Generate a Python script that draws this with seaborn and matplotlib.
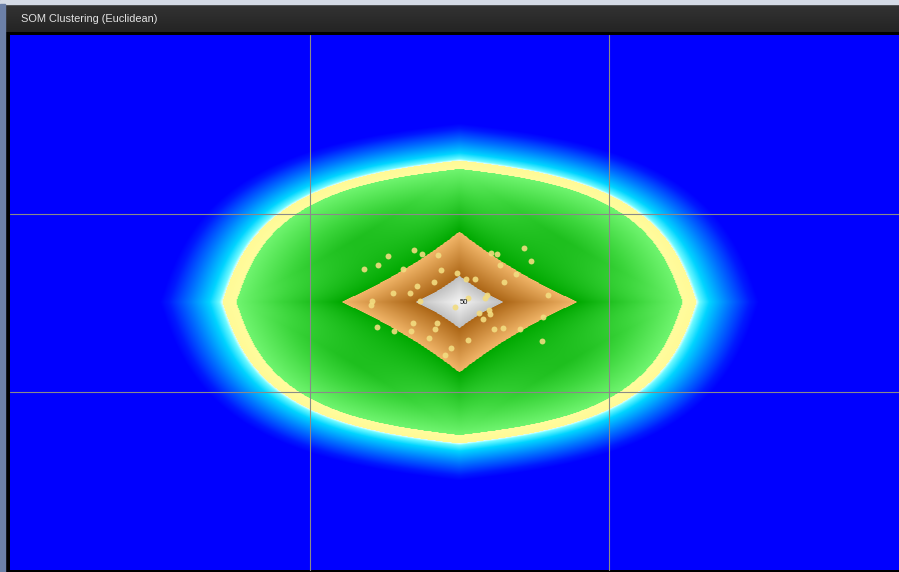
import numpy as np
import matplotlib
matplotlib.use("Agg")
import matplotlib.pyplot as plt
from matplotlib.colors import ListedColormap
from matplotlib.patches import Rectangle
import seaborn as sns

# ---------------------------------------------------------------------------
# SOM map: 3 x 3 nodes, hits per node (top row first)
grid_rows = 3
grid_cols = 3
node_hits = [
    [0, 0, 0],
    [0, 50, 0],
    [0, 0, 0],
]

# Samples projected onto the map, in grid units (x to the right, y downwards)
hit_x = [1.182, 1.228, 1.261, 1.349, 1.375, 1.430, 1.313, 1.438, 1.492, 1.523,
         1.553, 1.417, 1.359, 1.335, 1.278, 1.208, 1.204, 1.369, 1.529, 1.592,
         1.586, 1.486, 1.565, 1.598, 1.603, 1.578, 1.347, 1.425, 1.419, 1.339,
         1.282, 1.226, 1.400, 1.530, 1.472, 1.453, 1.617, 1.645, 1.703, 1.775,
         1.779, 1.795, 1.648, 1.688, 1.637, 1.606, 1.627, 1.716, 1.741]
hit_y = [1.313, 1.289, 1.238, 1.204, 1.227, 1.232, 1.313, 1.317, 1.335, 1.367,
         1.369, 1.385, 1.406, 1.447, 1.447, 1.489, 1.513, 1.489, 1.472, 1.457,
         1.475, 1.525, 1.559, 1.541, 1.565, 1.591, 1.615, 1.615, 1.647, 1.658,
         1.658, 1.638, 1.699, 1.709, 1.755, 1.793, 1.647, 1.643, 1.645, 1.714,
         1.582, 1.457, 1.382, 1.337, 1.289, 1.220, 1.229, 1.195, 1.264]

title = "SOM Clustering (Euclidean)"

# ---------------------------------------------------------------------------
sns.set_style("white")

W, H = 899, 572
fig = plt.figure(figsize=(W / 100, H / 100), dpi=100)
fig.patch.set_facecolor("#000000")


def fx(px):
    return px / W


def fy(py):
    return 1 - py / H


# window frame
fig.patches.append(Rectangle((0, fy(4)), 1, 4 / H, transform=fig.transFigure,
                             color="#d5dbe6", zorder=0))
fig.patches.append(Rectangle((0, 0), 5 / W, fy(4), transform=fig.transFigure,
                             color="#6c80a8", zorder=0))

# title bar with a soft vertical gradient
bar = fig.add_axes([fx(5), fy(32), 1 - fx(5), 27 / H])
grad = np.linspace(0, 1, 64)[:, None]
bar.imshow(grad, aspect="auto", cmap=ListedColormap(
    np.column_stack([np.linspace(0.20, 0.14, 256)] * 3)), extent=[0, 1, 0, 1])
bar.set_axis_off()
fig.text(fx(21), fy(19), title, color="#e2e2e2", fontsize=7.9,
         family=["Liberation Sans", "DejaVu Sans"], ha="left", va="center")


# ---------------------------------------------------------------------------
# colour scale of the node influence (0 = far from any hit node, 1 = node)
def build_cmap(stops, n=2048):
    pos = np.array([s[0] for s in stops])
    cols = np.array([s[1] for s in stops], float) / 255.0
    grid = np.linspace(0, 1, n)
    rgb = np.column_stack([np.interp(grid, pos, cols[:, i]) for i in range(3)])
    return ListedColormap(rgb)


eps = 1e-4
cmap = build_cmap([
    (0.000, (0, 0, 255)),
    (0.030, (0, 25, 255)),
    (0.100, (0, 120, 255)),
    (0.165, (0, 212, 255)),
    (0.198, (110, 250, 255)),
    (0.208, (225, 255, 255)),
    (0.208 + eps, (255, 250, 150)),
    (0.255, (255, 252, 158)),
    (0.255 + eps, (112, 245, 112)),
    (0.400, (60, 214, 60)),
    (0.605, (0, 168, 0)),
    (0.605 + eps, (242, 182, 105)),
    (0.853, (172, 102, 22)),
    (0.853 + eps, (192, 192, 192)),
    (1.000, (244, 244, 244)),
])


def node_distance(a, b):
    """Distance from a node centre in grid units: concave diamond near the
    node, opening into a rounded lens further out."""
    s = a + b
    q = a * a + b * b
    k = 4.0
    d_in = (k * s + np.sqrt(np.maximum(k * k * s * s - (2 * k - 1) * q, 0))) / (2 * k - 1)
    p = 2.7
    d_out = 0.8 * (a ** p + b ** p) ** (1 / p) + 0.2 * s
    w = np.clip((d_in - 0.395) / 0.355, 0, 1)
    return d_in + w * (d_out - d_in)


hits = np.array(node_hits, float)
nx, ny = 900, 536
xs = (np.arange(nx) + 0.5) / nx * grid_cols
ys = (np.arange(ny) + 0.5) / ny * grid_rows
X, Y = np.meshgrid(xs, ys)
influence = np.zeros_like(X)
for r in range(grid_rows):
    for c in range(grid_cols):
        if hits[r, c] <= 0:
            continue
        d = node_distance(np.abs(X - (c + 0.5)), np.abs(Y - (r + 0.5)))
        influence = np.maximum(influence, hits[r, c] / hits.max() * np.clip(1 - d, 0, 1))

# ---------------------------------------------------------------------------
ax = fig.add_axes([fx(10), fy(570.5), 898.5 / W, 535.5 / H])
ax.imshow(influence, cmap=cmap, vmin=0, vmax=1, origin="upper",
          extent=[0, grid_cols, grid_rows, 0], aspect="auto",
          interpolation="bilinear", zorder=0)

for c in range(1, grid_cols):
    ax.axvline(c, color="#8a8a8a", lw=0.8, zorder=1)
for r in range(1, grid_rows):
    ax.axhline(r, color="#8a8a8a", lw=0.8, zorder=1)

sns.scatterplot(x=hit_x, y=hit_y, ax=ax, color="#f2dc80", s=18,
                linewidth=0, alpha=0.9, zorder=3, legend=False)

for r in range(grid_rows):
    for c in range(grid_cols):
        if hits[r, c] > 0:
            ax.text(c + 0.5, r + 0.5, f"{int(hits[r, c])}", fontsize=5.5,
                    color="#111111", ha="left", va="center",
                    family=["Liberation Sans", "DejaVu Sans"], zorder=4)

ax.set_xlim(0, grid_cols)
ax.set_ylim(grid_rows, 0)
ax.set_axis_off()

fig.savefig("out.png", dpi=100, facecolor=fig.get_facecolor())
